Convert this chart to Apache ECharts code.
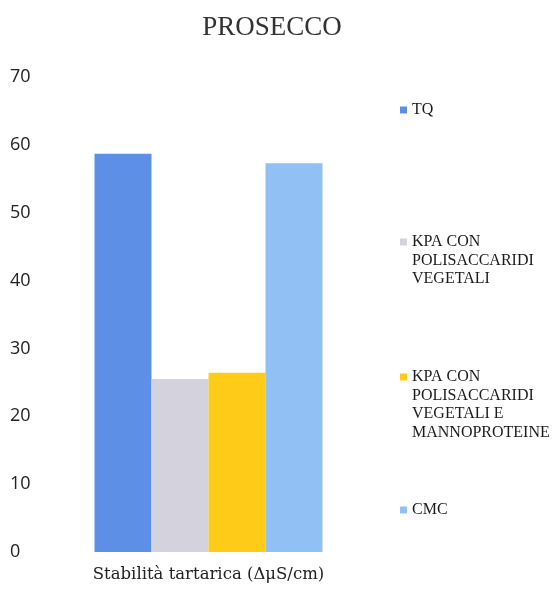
<!DOCTYPE html>
<html>
<head>
<meta charset="utf-8">
<script src="https://cdn.jsdelivr.net/npm/echarts@6/dist/echarts.min.js"></script>
<style>
  html, body { margin: 0; padding: 0; background: #fff; }
  #chart { width: 555px; height: 589px; }
</style>
</head>
<body>
<div id="chart"></div>
<script>
// Tartaric stability of Prosecco under each treatment
const categories = ['Stabilità tartarica (ΔμS/cm)'];
const seriesNames = [
  'TQ',
  'KPA CON\nPOLISACCARIDI\nVEGETALI',
  'KPA CON\nPOLISACCARIDI\nVEGETALI E\nMANNOPROTEINE',
  'CMC'
];
const seriesValues = [
  [58.7],
  [25.5],
  [26.4],
  [57.3]
];
const seriesColors = ['#5d8fe6', '#d4d3dd', '#fecb18', '#90c0f4'];
const yTicks = { min: 0, max: 70, interval: 10 };

// legend rows: vertical position of each entry's first text line
const legendFirstLine = [110, 242, 377, 510];
const LINE_H = 18.5;
const SQ = 7;

const serif = '"Liberation Serif", "DejaVu Serif", serif';
const wideSerif = '"DejaVu Serif", serif';

// Legend text is centred on the item box, so for multi-line names the box is
// made taller and the square marker sits at its top, next to the first line.
const legends = seriesNames.map((name, i) => {
  const lines = name.split('\n').length;
  const boxH = SQ + (lines - 1) * LINE_H;
  const icon = lines > 1
    ? 'path://M0 0H' + SQ + 'V' + SQ + 'H0Z M0 ' + boxH + 'L' + SQ + ' ' + boxH
    : 'rect';
  return {
    data: [name],
    orient: 'vertical',
    left: 400,
    top: legendFirstLine[i] - LINE_H / 2,
    padding: 0,
    itemWidth: SQ,
    itemHeight: boxH,
    itemGap: 0,
    icon: icon,
    selectedMode: false,
    textStyle: {
      fontFamily: serif,
      fontSize: 16,
      color: '#1a1a1a',
      lineHeight: LINE_H
    }
  };
});

const chart = echarts.init(document.getElementById('chart'));
chart.setOption({
  animation: false,
  title: {
    text: 'PROSECCO',
    left: 267,
    textAlign: 'center',
    top: 9,
    textStyle: {
      fontFamily: serif,
      fontSize: 27,
      fontWeight: 'normal',
      color: '#333'
    }
  },
  legend: legends,
  grid: { left: 77, right: 215, top: 77, bottom: 37 },
  xAxis: {
    type: 'category',
    data: categories,
    axisLine: { show: false },
    axisTick: { show: false },
    axisLabel: {
      margin: 14,
      fontFamily: wideSerif,
      fontSize: 16.5,
      color: '#222'
    }
  },
  yAxis: {
    type: 'value',
    min: yTicks.min,
    max: yTicks.max,
    interval: yTicks.interval,
    splitLine: { show: false },
    axisLine: { show: false },
    axisTick: { show: false },
    axisLabel: {
      align: 'left',
      margin: 67,
      fontFamily: '"Open Sans", sans-serif',
      fontSize: 18,
      color: '#222'
    }
  },
  series: seriesNames.map((name, i) => ({
    type: 'bar',
    name: name,
    data: seriesValues[i],
    barWidth: 57,
    barGap: '0%',
    itemStyle: { color: seriesColors[i] }
  }))
});
</script>
</body>
</html>
